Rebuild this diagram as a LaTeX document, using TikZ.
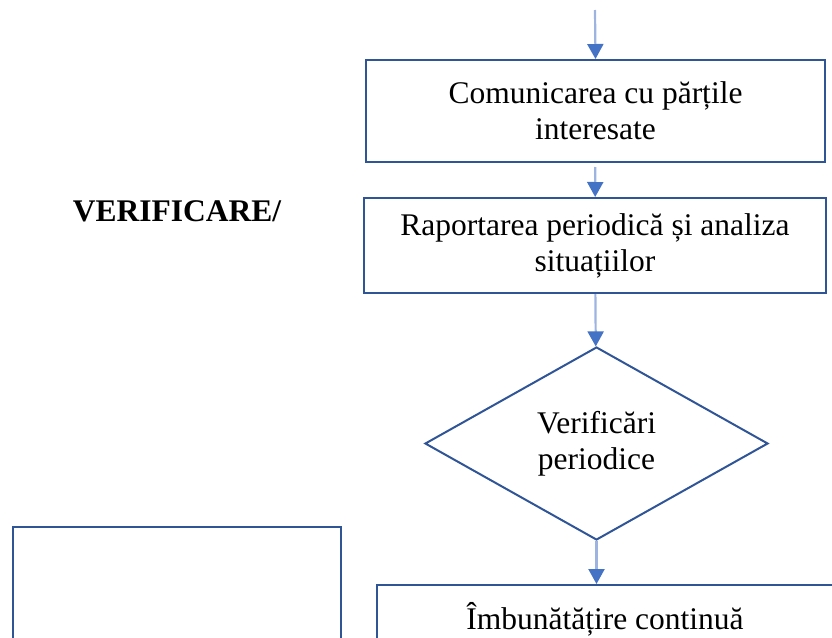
\documentclass[tikz,border=0pt]{standalone}
\usepackage{fontspec}
\setmainfont{Liberation Serif}
\usepackage{tikz}
\usetikzlibrary{positioning,shapes.geometric,arrows.meta}
\usepackage{xcolor}
\definecolor{chenar}{HTML}{2F5597}
\definecolor{sageata}{HTML}{4472C4}
\definecolor{linie}{HTML}{9DB4E0}

\begin{document}
\begin{tikzpicture}[x=1pt, y=-1pt, line width=2pt,
    bloc/.style={draw=chenar, rectangle, align=center, inner sep=0pt},
    romb/.style={draw=chenar, diamond, align=center, inner sep=0pt},
    flux/.style={draw=linie, line width=2.2pt, -{Triangle[width=16pt, length=15pt, color=sageata, fill=sageata]}}]
    \useasboundingbox (0,0) rectangle (832,637);
    \clip (0,0) rectangle (832,637);
    \fontsize{31.5}{36}\selectfont

    % Definirea blocurilor
    \coordinate (start) at (595,10);
    \node [bloc, minimum width=459, minimum height=102] (bloc1) at (595.5,111) {Comunicarea cu părțile\\interesate};
    \node [bloc, minimum width=462, minimum height=95] (bloc2) at (595,245.5) {Raportarea periodică și analiza\\situațiilor};
    \node [romb, minimum width=343, minimum height=193] (romb1) at (596.5,443.5) {Verificări\\periodice};
    \node [bloc, anchor=north west, minimum width=480, minimum height=120,
           label={[anchor=north, xshift=-12pt, yshift=-7pt]north:Îmbunătățire continuă}] (bloc3) at (376,584) {};
    \node [bloc, anchor=north west, minimum width=328, minimum height=150] (bloc4) at (12,526) {};
    \node (titlu) at (177,211) {\bfseries VERIFICARE/};

    % Sageti
    \draw [flux] (start) -- (bloc1.north);
    \draw [flux, shorten <=4pt] (bloc1) -- (bloc2);
    \draw [flux] (bloc2) -- (romb1);
    \draw [flux] (romb1.south) -- (romb1.south |- bloc3.north);

\end{tikzpicture}
\end{document}
